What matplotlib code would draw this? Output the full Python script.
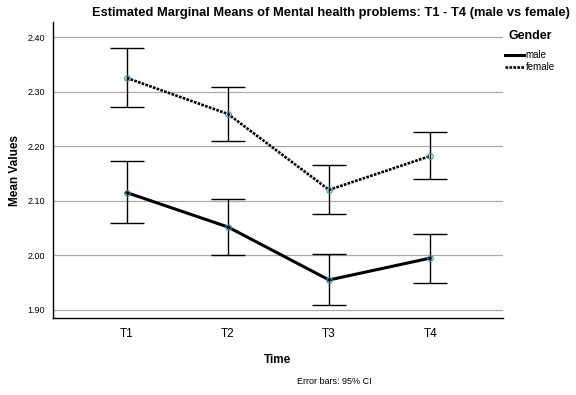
import numpy as np
import matplotlib
matplotlib.use("Agg")
import matplotlib.pyplot as plt
from matplotlib.lines import Line2D

times = ["T1", "T2", "T3", "T4"]

male_mean = [2.115, 2.052, 1.955, 1.995]
male_lo = [2.060, 2.001, 1.909, 1.950]
male_hi = [2.172, 2.104, 2.003, 2.040]

female_mean = [2.325, 2.259, 2.120, 2.182]
female_lo = [2.271, 2.210, 2.075, 2.140]
female_hi = [2.379, 2.309, 2.166, 2.226]

plt.rcParams['font.family'] = ['Liberation Sans', 'DejaVu Sans']

DOTTED = (0, (1, 0.5))

fig = plt.figure(figsize=(5.76, 3.95), dpi=100)
ax = fig.add_axes([53 / 576, 1 - 318 / 395, 450 / 576, 296 / 395])

x = np.arange(len(times))

for mean, lo, hi, ls in [(male_mean, male_lo, male_hi, '-'),
                         (female_mean, female_lo, female_hi, DOTTED)]:
    mean = np.array(mean)
    yerr = [mean - np.array(lo), np.array(hi) - mean]
    ax.errorbar(x, mean, yerr=yerr, fmt='none', ecolor='black',
                elinewidth=1.0, capsize=12.5, capthick=1.0, zorder=3)
    ax.plot(x, mean, color='black', linestyle=ls,
            linewidth=2.2 if ls == '-' else 1.9, zorder=4)
    ax.plot(x, mean, linestyle='none', marker='o', markersize=4,
            markerfacecolor='none', markeredgecolor='#3b93a8',
            markeredgewidth=0.8, zorder=5)

ax.set_xlim(-0.73, 3.72)
ax.set_ylim(1.8853, 2.4275)
ax.set_yticks([1.90, 2.00, 2.10, 2.20, 2.30, 2.40])
ax.set_yticklabels(["1.90", "2.00", "2.10", "2.20", "2.30", "2.40"])
ax.set_xticks(x)
ax.set_xticklabels(times)
ax.tick_params(axis='y', length=0, labelsize=6.5, pad=6)
ax.tick_params(axis='x', length=0, labelsize=8.5, pad=7)

ax.yaxis.grid(True, color='#aaaaaa', linewidth=0.9)
ax.set_axisbelow(True)
for side in ['top', 'right']:
    ax.spines[side].set_visible(False)
for side in ['left', 'bottom']:
    ax.spines[side].set_linewidth(1.0)
    ax.spines[side].set_color('black')

ax.set_ylabel("Mean Values", fontsize=8.5, fontweight='bold')
ax.yaxis.set_label_coords(-32 / 450, 0.5)
ax.set_xlabel("Time", fontsize=8.5, fontweight='bold', labelpad=10)

fig.text(331 / 576, 1 - 13 / 395,
         "Estimated Marginal Means of Mental health problems: T1 - T4 (male vs female)",
         ha='center', va='center', fontsize=9.3, fontweight='bold')
fig.text(334 / 576, 1 - 381 / 395, "Error bars: 95% CI",
         ha='center', va='center', fontsize=6.5)

handles = [Line2D([0], [0], color='black', linestyle='-', linewidth=2.2),
           Line2D([0], [0], color='black', linestyle=DOTTED, linewidth=1.9)]
leg = fig.legend(handles, ["male", "female"], title="Gender",
                 loc='upper left', bbox_to_anchor=(503 / 576, 1 - 28 / 395),
                 frameon=False, fontsize=7, handlelength=2.0,
                 handletextpad=0.15, labelspacing=0.2, borderaxespad=0,
                 borderpad=0.2)
leg.get_title().set_fontweight('bold')
leg.get_title().set_fontsize(9)
leg._legend_box.align = 'left'
leg._legend_box.sep = 6
# indent the title a little past the handles
leg.get_title().set_position((4, 0))

fig.savefig("out.png", dpi=100)
